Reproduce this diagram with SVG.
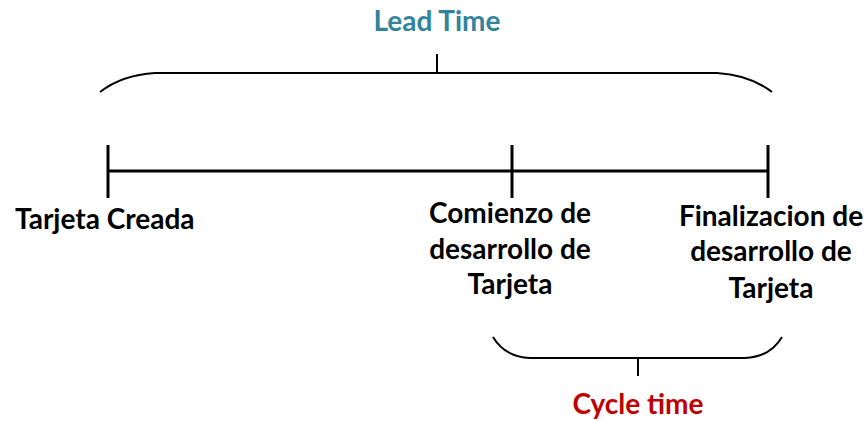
<svg xmlns="http://www.w3.org/2000/svg" width="867" height="421" viewBox="0 0 867 421">
<style>
.t{font-family:Lato,"Open Sans","Liberation Sans",sans-serif;font-weight:bold;font-size:28px;fill:#000}
.c{text-anchor:middle}
.ln{fill:none;stroke:#000;stroke-width:3;stroke-linecap:butt}
.br{fill:none;stroke:#000;stroke-width:2}
</style>
<rect width="867" height="421" fill="#fff"/>
<g id="connectors">
<path class="ln" d="M108,171 H768 M108,145 V198 M512,145 V198 M768,145 V198"/>
<path class="br" d="M100,92 Q122,75 155,73 H717 Q750,75 772,92 M437,54 V73"/>
<path class="br" d="M493,337 Q505,357 530,358 H745 Q770,357 782,337 M638,358 V376"/>
</g>
<g id="lead-time"><text class="t c" x="437" y="31" style="fill:#31849B">Lead Time</text></g>
<g id="tarjeta-creada"><text class="t" x="15" y="229">Tarjeta Creada</text></g>
<g id="comienzo"><text class="t c" x="510" y="223">Comienzo de<tspan x="510" y="259">desarrollo de</tspan><tspan x="510" y="294">Tarjeta</tspan></text></g>
<g id="finalizacion"><text class="t c" x="771" y="226">Finalizacion de<tspan x="771" y="261">desarrollo de</tspan><tspan x="771" y="298">Tarjeta</tspan></text></g>
<g id="cycle-time"><text class="t c" x="638" y="414" style="fill:#C00000">Cycle time</text></g>
</svg>
